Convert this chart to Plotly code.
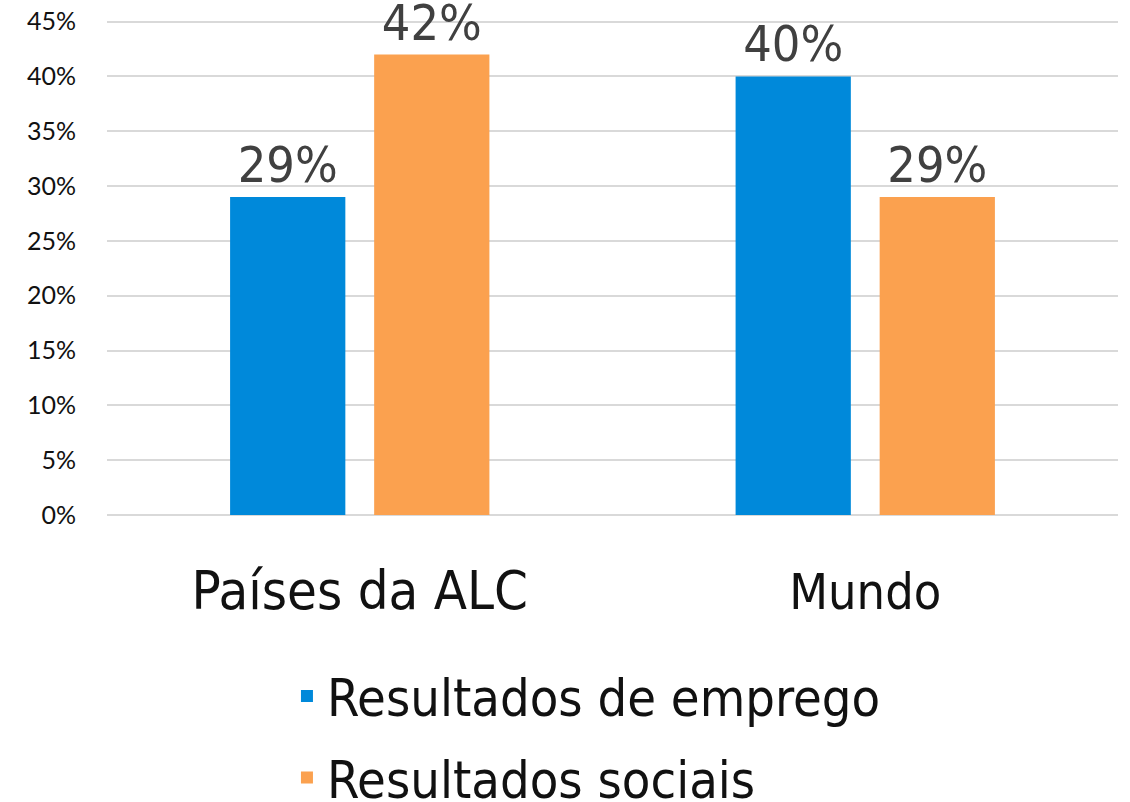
import plotly.graph_objects as go

categories = ["Países da ALC", "Mundo"]
cat_labels = ["<span style='font-size:54px'>Países da ALC</span>",
              "<span style='font-size:50px'>Mundo</span>"]
emprego = [0.29, 0.40]
sociais = [0.42, 0.29]
y_ticks = [0, 0.05, 0.10, 0.15, 0.20, 0.25, 0.30, 0.35, 0.40, 0.45]
y_tick_labels = ["0%", "5%", "10%", "15%", "20%", "25%", "30%", "35%", "40%", "45%"]
series_names = ["Resultados de emprego", "Resultados sociais"]
colors = ["#0089DA", "#FBA14F"]

fig = go.Figure()
for i, (name, vals, col) in enumerate(zip(series_names, [emprego, sociais], colors)):
    fig.add_trace(go.Bar(
        x=categories, y=vals, name=name, legendgroup=f"g{i}",
        marker=dict(color=col, line=dict(width=0)),
        text=[f"{round(v*100)}%" for v in vals],
        textposition="outside",
        textfont=dict(size=50, color="#404040", family="DejaVu Sans Condensed, sans-serif"),
        cliponaxis=False,
    ))

fig.update_layout(
    width=1130, height=802,
    margin=dict(l=107, r=12, t=20, b=287, autoexpand=False),
    paper_bgcolor="white", plot_bgcolor="white",
    barmode="group", bargap=0.43, bargroupgap=0.2,
    font=dict(family="DejaVu Sans Condensed, sans-serif", color="#111111"),
    showlegend=True,
    legend=dict(orientation="v", x=0.178, xanchor="left", y=-0.284, yanchor="top",
                font=dict(size=52, color="#111111"), itemwidth=30,
                tracegroupgap=11, bgcolor="rgba(0,0,0,0)"),
    uniformtext=dict(minsize=10, mode="show"),
)
fig.update_xaxes(
    tickmode="array", tickvals=categories, ticktext=cat_labels,
    showgrid=False, showline=False, ticks="outside", ticklen=79,
    tickcolor="rgba(0,0,0,0)", automargin=False,
    tickfont=dict(color="#111111"),
)
fig.update_yaxes(
    range=[0, 0.4515], tickmode="array", tickvals=y_ticks, ticktext=y_tick_labels,
    showgrid=True, gridcolor="#D9D9D9", gridwidth=2,
    zeroline=True, zerolinecolor="#D9D9D9", zerolinewidth=2,
    showline=False, ticks="outside", ticklen=25, tickcolor="rgba(0,0,0,0)",
    automargin=False, ticklabeloverflow="allow",
    tickfont=dict(size=25, color="#111111", family="Lato, sans-serif"),
)

fig.write_html("out.html", config={"displayModeBar": False},
               post_script="document.body.style.margin='0';document.body.style.overflow='hidden';")
